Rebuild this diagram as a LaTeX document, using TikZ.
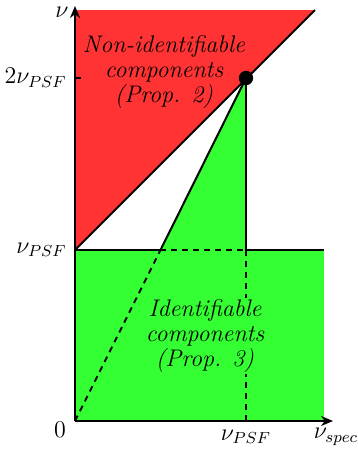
\documentclass[tikz,border=0pt]{standalone}
\usetikzlibrary{arrows.meta}
\definecolor{redfill}{RGB}{255,51,51}
\definecolor{greenfill}{RGB}{51,255,51}
\begin{document}
\begin{tikzpicture}[x=0.5pt,y=-0.5pt,
  line/.style={line width=1pt},
  dline/.style={line width=1pt,dash pattern=on 3pt off 2.5pt},
  axis/.style={line width=1.3pt,-{Stealth[length=6pt,width=5pt]}},
  lbl/.style={font=\fontsize{12}{12.5}\selectfont},
  region/.style={align=center,font=\fontsize{12}{12.5}\selectfont\itshape,inner sep=1pt}]
\useasboundingbox (0,0) rectangle (358,452);
% key points
\coordinate (O) at (75,421);
\coordinate (A) at (75,250);
\coordinate (B) at (160.5,250);
\coordinate (P) at (246,250);
\coordinate (Q) at (246,78);
\coordinate (R) at (324,250);
\coordinate (S) at (324,421);
\coordinate (T) at (315,10);
\coordinate (U) at (75,10);
\coordinate (Y2) at (75,78);
\coordinate (X1) at (246,421);
\coordinate (Xend) at (333,421);
\coordinate (Yend) at (75,6);
% fills
\fill[redfill] (A) -- (T) -- (U) -- cycle;
\fill[greenfill] (O) -- (S) -- (R) -- (P) -- (Q) -- (B) -- (A) -- cycle;
% dashed lines
\draw[dline] (Y2) -- (Q);
\draw[dline] (O) -- (B);
\draw[dline] (B) -- (P);
\draw[dline] (P) -- (X1);
% region labels
\begin{scope}
\clip (A) -- (T) -- (U) -- cycle;
\node[region,fill=redfill] (nonid) at (164,72) {Non-identifiable\\components\\(Prop. 2)};
\end{scope}
\node[region,fill=greenfill] (id) at (205,336) {Identifiable\\components\\(Prop. 3)};
% solid lines
\draw[line] (A) -- (T);
\draw[line] (B) -- (Q);
\draw[line] (Q) -- (P);
\draw[line] (A) -- (B);
\draw[line] (P) -- (R);
\fill (Q) circle (3.6pt);
% axes
\draw[axis] (O) -- (Yend);
\draw[axis] (O) -- (Xend);
% labels
\node[lbl,anchor=east,inner sep=1pt] (nu) at (71,12) {$\nu$};
\node[lbl,anchor=east,inner sep=1pt] (y2) at (69,78) {$2\nu_{PSF}$};
\node[lbl,anchor=east,inner sep=1pt] (y1) at (69,250) {$\nu_{PSF}$};
\node[lbl] (zero) at (60,430) {$0$};
\node[lbl] (x1) at (246,437) {$\nu_{PSF}$};
\node[lbl] (xs) at (336,437) {$\nu_{spec}$};
\end{tikzpicture}
\end{document}
